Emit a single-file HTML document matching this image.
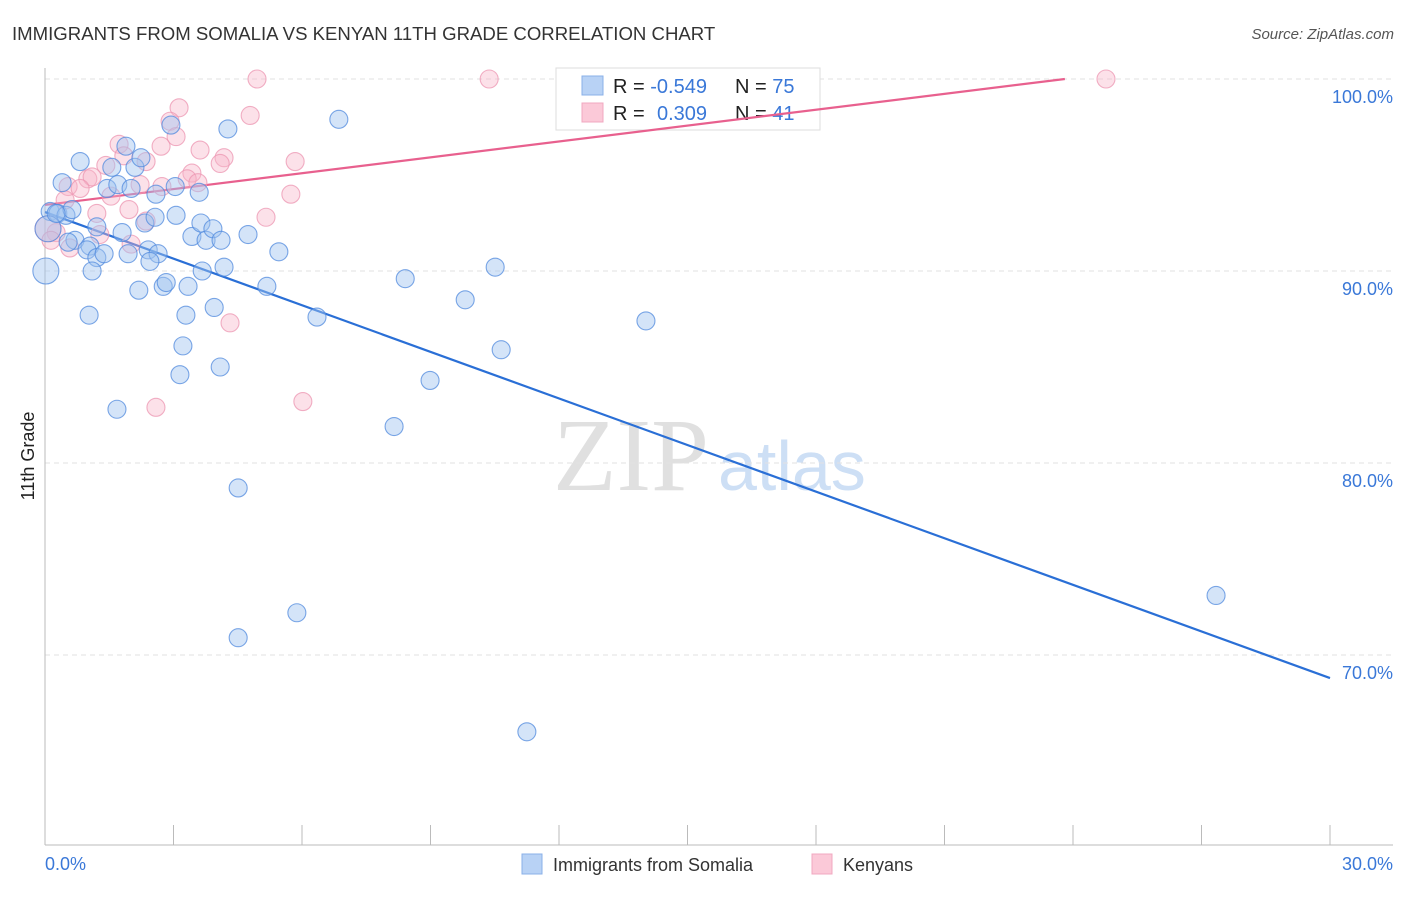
<!DOCTYPE html>
<html><head><meta charset="utf-8"><style>
body{margin:0;background:#fff;font-family:"Liberation Sans",sans-serif;}
</style></head><body>
<svg id="chart" width="1406" height="892" xmlns="http://www.w3.org/2000/svg" font-family="Liberation Sans, sans-serif">
<text x="12" y="40" font-size="18.6" fill="#333">IMMIGRANTS FROM SOMALIA VS KENYAN 11TH GRADE CORRELATION CHART</text>
<text x="1394" y="39" font-size="15" fill="#555" font-style="italic" text-anchor="end">Source: ZipAtlas.com</text>
<text x="34" y="456" font-size="18" fill="#222" text-anchor="middle" transform="rotate(-90 34 456)">11th Grade</text>
<g><text x="553" y="490" font-size="104" fill="#e0e0e0" style="font-family:'Liberation Serif',serif">ZIP</text><text x="718" y="490" font-size="70" fill="#cddff5">atlas</text></g>
<g id="grid"></g><g id="axes"></g>
<g>
<rect x="556" y="68" width="264" height="62" fill="#fff" stroke="#ddd"/>
<rect x="582" y="76" width="21" height="19" fill="#b8d2f5" stroke="#8ab0e8"/>
<rect x="582" y="103" width="21" height="19" fill="#fbc9d8" stroke="#f0a8c0"/>
<text x="613" y="93" font-size="20" fill="#222">R = <tspan fill="#3a78d8">-0.549</tspan><tspan x="735">N = </tspan><tspan fill="#3a78d8">75</tspan></text>
<text x="613" y="120" font-size="20" fill="#222">R = <tspan x="657" fill="#3a78d8">0.309</tspan><tspan x="735">N = </tspan><tspan fill="#3a78d8"> 41</tspan></text>
</g>
<g id="lines"></g><g id="pts"></g>
<g>
<rect x="522" y="854" width="20" height="20" fill="#b8d2f5" stroke="#8ab0e8"/>
<text x="553" y="871" font-size="18" fill="#333">Immigrants from Somalia</text>
<rect x="812" y="854" width="20" height="20" fill="#fbc9d8" stroke="#f0a8c0"/>
<text x="843" y="871" font-size="18" fill="#333">Kenyans</text>
</g>
</svg>
<script>
const xTicks=[0,30];
const yTicks=[70,80,90,100];
const blueX=[0.82,0.40,0.12,0.30,0.49,0.63,0.70,1.05,0.98,1.21,1.21,1.38,1.10,1.03,1.45,1.56,1.70,1.89,2.01,2.10,2.24,1.80,1.94,2.19,2.33,2.41,2.57,2.59,2.64,2.45,2.76,2.83,2.94,3.04,3.06,3.22,3.15,3.29,3.34,3.43,3.60,3.64,3.76,3.92,4.11,3.67,4.18,3.95,4.09,4.27,4.74,5.18,5.46,6.86,6.35,4.51,4.51,5.88,1.68,8.41,8.99,9.81,10.51,10.65,8.15,11.25,14.03,27.34,0.02,0.07,0.26,0.54];
const blueY=[95.7,94.6,93.1,93.0,92.9,93.2,91.6,91.3,91.1,92.3,90.7,90.9,90.0,87.7,94.3,95.4,94.5,96.5,94.3,95.4,95.9,92.0,90.9,89.0,92.5,91.1,92.8,94.0,90.9,90.5,89.2,89.4,97.6,94.4,92.9,86.1,84.6,87.7,89.2,91.8,94.1,92.5,91.6,92.2,91.6,90.0,90.2,88.1,85.0,97.4,91.9,89.2,91.0,97.9,87.6,78.7,70.9,72.2,82.8,89.6,84.3,88.5,90.2,85.9,81.9,66.0,87.4,73.1,90.0,92.2,93.0,91.5];
const pinkX=[4.95,10.37,24.77,3.13,4.79,2.92,3.06,1.73,2.71,3.62,1.84,2.36,4.18,4.09,5.84,1.42,1.00,1.10,0.54,0.82,1.54,2.22,2.73,3.43,3.32,3.57,5.74,1.96,1.21,2.36,5.16,1.28,2.01,0.58,0.26,0.07,4.32,6.02,2.59,0.14,0.47];
const pinkY=[100,100,100,98.5,98.1,97.8,97.0,96.6,96.5,96.3,96.0,95.7,95.9,95.6,95.7,95.5,94.8,94.9,94.4,94.3,93.9,94.5,94.4,95.1,94.8,94.6,94.0,93.2,93.0,92.6,92.8,91.9,91.4,91.2,92.0,92.2,87.3,83.2,82.9,91.6,93.7];
const blueTrend=[[0,93.07],[30,68.8]];
const pinkTrend=[[0,93.44],[23.81,100]];
const X=v=>45+v/30*1285, Y=v=>79+(100-v)*19.2;
const NS="http://www.w3.org/2000/svg";
function mk(t,a,p){const e=document.createElementNS(NS,t);for(const k in a)e.setAttribute(k,a[k]);p.appendChild(e);return e;}
const grid=document.getElementById('grid'),axes=document.getElementById('axes'),lines=document.getElementById('lines'),pts=document.getElementById('pts');
yTicks.forEach(t=>{const l=mk('line',{x1:45,x2:1393,y1:Y(t),y2:Y(t),stroke:'#e2e2e2','stroke-dasharray':'5,4'},grid);


const tx=mk('text',{x:1393,y:Y(t)+24,'font-size':18,fill:'#3a78d8','text-anchor':'end'},axes);tx.textContent=t.toFixed(1)+'%';

});
const ax=mk('line',{x1:45,x2:45,y1:68,y2:845,stroke:'#bbb'},axes);


const bx=mk('line',{x1:45,x2:1393,y1:845,y2:845,stroke:'#bbb'},axes);


for(let i=0;i<=10;i++){const t=mk('line',{x1:X(i*3),x2:X(i*3),y1:825,y2:845,stroke:'#bbb'},axes);

}
xTicks.forEach((t,i)=>{const tx=mk('text',{x:i?1393:45,y:870,'font-size':18,fill:'#3a78d8','text-anchor':i?'end':'start'},axes);tx.textContent=t.toFixed(1)+'%';

});
function pt(xs,ys,fill,stroke,name){xs.forEach((x,i)=>{const c=mk('circle',{cx:X(x),cy:Y(ys[i]),r:(x<0.1&&(ys[i]==90||ys[i]==92.2))?13:9,fill:fill,stroke:stroke,'stroke-width':1.1},pts);

});}
pt(pinkX,pinkY,'rgba(248,180,200,0.4)','rgba(236,150,178,0.75)','kenyan-point');
pt(blueX,blueY,'rgba(160,196,240,0.45)','rgba(80,138,222,0.75)','somalia-point');
const bl=mk('line',{x1:X(blueTrend[0][0]),y1:Y(blueTrend[0][1]),x2:X(blueTrend[1][0]),y2:Y(blueTrend[1][1]),stroke:'#2a6fd6','stroke-width':2.2},lines);


const pl=mk('line',{x1:X(pinkTrend[0][0]),y1:Y(pinkTrend[0][1]),x2:X(pinkTrend[1][0]),y2:Y(pinkTrend[1][1]),stroke:'#e8608e','stroke-width':2.2},lines);


</script>
</body></html>
